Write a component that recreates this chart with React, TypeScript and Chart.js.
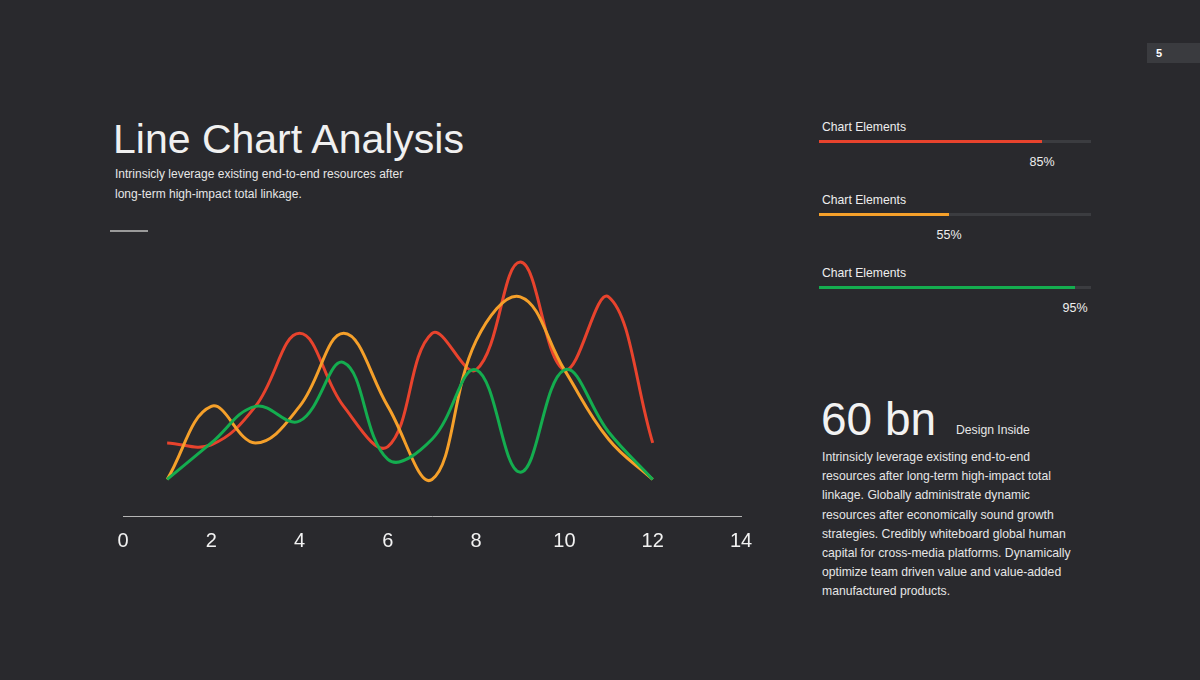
import React, { useEffect, useRef } from "react";
import { Chart, registerables } from "chart.js";

Chart.register(...registerables);

const xValues = [1, 2, 3, 4, 5, 6, 7, 8, 9, 10, 11, 12];
const redSeries = [2, 1.95, 3, 5, 3, 1.9, 5, 4, 6.95, 4, 6, 2];
const orangeSeries = [1, 3, 2, 3, 5, 3, 1, 4.8, 6, 4, 2.1, 1];
const greenSeries = [1, 2, 3, 2.6, 4.2, 1.55, 2.1, 4, 1.2, 4, 2.3, 1];
const xTicks = [0, 2, 4, 6, 8, 10, 12, 14];

const progressItems = [
  { label: "Chart Elements", pct: "85%", color: "#e8432d", width: 223 },
  { label: "Chart Elements", pct: "55%", color: "#f5a02a", width: 130 },
  { label: "Chart Elements", pct: "95%", color: "#14ad4f", width: 256 },
];

const FONT = "'Liberation Sans', Arial, Helvetica, sans-serif";
const BG = "#29292d";

function LineChart() {
  const ref = useRef<HTMLCanvasElement>(null);
  useEffect(() => {
    if (!ref.current) return;
    const mk = (vals: number[]) => vals.map((v, i) => ({ x: xValues[i], y: v }));
    const chart = new Chart(ref.current, {
      type: "line",
      data: {
        datasets: [
          { label: "A", data: mk(greenSeries), borderColor: "#14ad4f", borderWidth: 3, pointRadius: 0, tension: 0.4, fill: false },
          { label: "B", data: mk(orangeSeries), borderColor: "#f5a02a", borderWidth: 3, pointRadius: 0, tension: 0.4, fill: false },
          { label: "C", data: mk(redSeries), borderColor: "#e8432d", borderWidth: 3, pointRadius: 0, tension: 0.4, fill: false },
        ],
      },
      options: {
        animation: false,
        responsive: false,
        maintainAspectRatio: false,
        layout: { padding: { left: 23, right: 39, top: 12, bottom: 14 } },
        plugins: { legend: { display: false }, tooltip: { enabled: false } },
        scales: {
          x: {
            type: "linear",
            min: 0,
            max: 14,
            afterBuildTicks: (axis: any) => {
              axis.ticks = xTicks.map((v) => ({ value: v }));
            },
            grid: { display: false, drawTicks: false },
            border: { display: true, color: "#b5b5b5", width: 1 },
            ticks: { color: "#f2f2f2", padding: 13, font: { size: 20, family: FONT }, maxRotation: 0 },
          },
          y: { display: false, min: 0, max: 7.5 },
        },
      },
    });
    return () => chart.destroy();
  }, []);
  return <canvas ref={ref} width={680} height={350} style={{ position: "absolute", left: 100, top: 230, width: 680, height: 350 }} />;
}

export default function App() {
  return (
    <div style={{ position: "fixed", left: 0, top: 0, width: 1200, height: 680, background: BG, fontFamily: FONT, color: "#eeeeee", overflow: "hidden" }}>
      <div style={{ position: "absolute", left: 1147, top: 43, width: 53, height: 20, background: "#3a3b3f", fontSize: 11, fontWeight: "bold", lineHeight: "20px", paddingLeft: 9, boxSizing: "border-box", color: "#fff" }}>5</div>

      <div style={{ position: "absolute", left: 113, top: 114, fontSize: 41, lineHeight: "50px", color: "#f0f0f0", whiteSpace: "nowrap" }}>Line Chart Analysis</div>
      <div style={{ position: "absolute", left: 115, top: 165, width: 310, fontSize: 12, lineHeight: "19.5px", color: "#e6e6e6" }}>
        Intrinsicly leverage existing end-to-end resources after long-term high-impact total linkage.
      </div>
      <div style={{ position: "absolute", left: 110, top: 230, width: 38, height: 2, background: "#9a9a9a" }} />

      <LineChart />

      {progressItems.map((it, i) => (
        <div key={i} style={{ position: "absolute", left: 819, top: 118 + i * 73, width: 272, height: 52 }}>
          <div style={{ position: "absolute", left: 3, top: 0, fontSize: 12.2, lineHeight: "18px", color: "#eeeeee", whiteSpace: "nowrap" }}>{it.label}</div>
          <div style={{ position: "absolute", left: 0, top: 22, width: 272, height: 3, background: "#3b3c40" }} />
          <div style={{ position: "absolute", left: 0, top: 22, width: it.width, height: 3, background: it.color }} />
          <div style={{ position: "absolute", left: it.width - 30, top: 35, width: 60, textAlign: "center", fontSize: 12.5, lineHeight: "18px", color: "#eeeeee" }}>{it.pct}</div>
        </div>
      ))}

      <div style={{ position: "absolute", left: 821, top: 393, fontSize: 46, lineHeight: "52px", color: "#f2f2f2", whiteSpace: "nowrap" }}>60 bn</div>
      <div style={{ position: "absolute", left: 956, top: 421, fontSize: 12.2, lineHeight: "18px", color: "#e6e6e6", whiteSpace: "nowrap" }}>Design Inside</div>
      <div style={{ position: "absolute", left: 822, top: 448, width: 262, fontSize: 12.2, lineHeight: "19.2px", color: "#e6e6e6" }}>
        Intrinsicly leverage existing end-to-end resources after long-term high-impact total linkage. Globally administrate dynamic resources after economically sound growth strategies. Credibly whiteboard global human capital for cross-media platforms. Dynamically optimize team driven value and value-added manufactured products.
      </div>
    </div>
  );
}
